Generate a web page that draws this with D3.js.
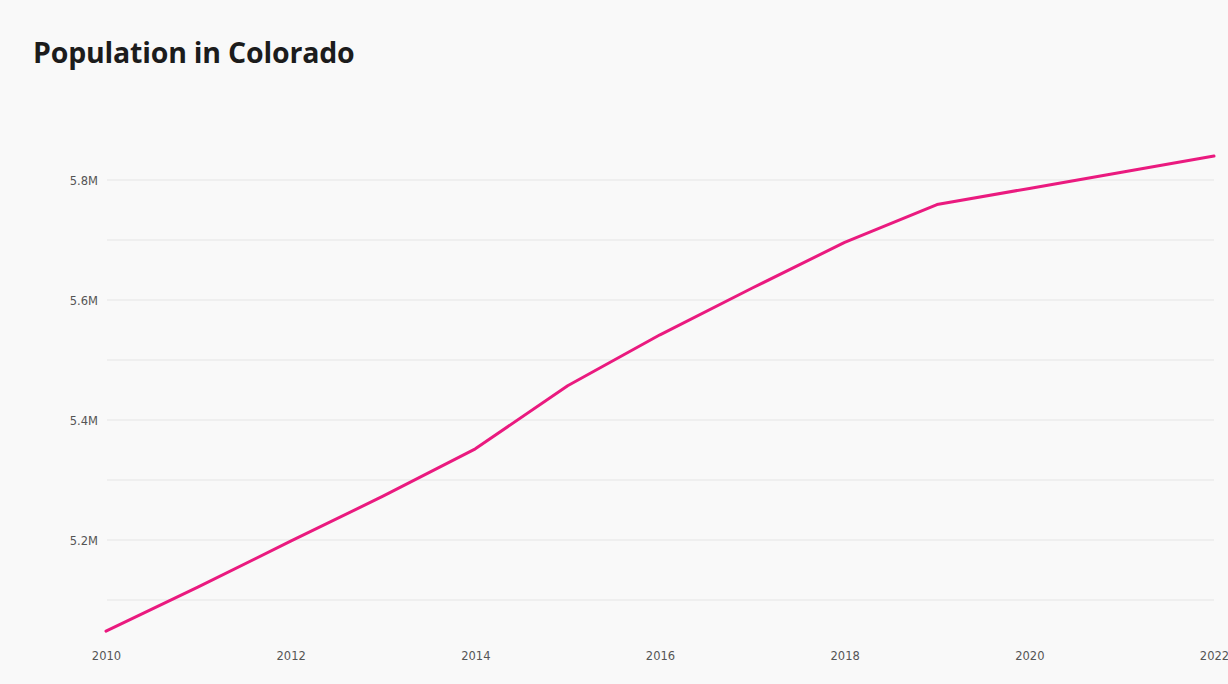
<!DOCTYPE html>
<html>
<head>
<meta charset="utf-8">
<script src="https://cdn.jsdelivr.net/npm/d3@7/dist/d3.min.js"></script>
<style>
  html, body { margin: 0; padding: 0; background: #f9f9f9; }
  svg { display: block; }
</style>
</head>
<body>
<svg id="chart" width="1228" height="684"></svg>
<script>
const years = [2010, 2011, 2012, 2013, 2014, 2015, 2016, 2017, 2018, 2019, 2020, 2021, 2022];
const population = [5048000, 5122000, 5198000, 5273000, 5352000, 5457000, 5542000, 5620000, 5696000, 5759000, 5786000, 5813000, 5840000];
const xTickYears = [2010, 2012, 2014, 2016, 2018, 2020, 2022];
const yGridValues = [5100000, 5200000, 5300000, 5400000, 5500000, 5600000, 5700000, 5800000];
const yLabelValues = [5200000, 5400000, 5600000, 5800000];
const yLabelTexts = ["5.2M", "5.4M", "5.6M", "5.8M"];
const title = "Population in Colorado";

const svg = d3.select("#chart");
const W = 1228, H = 684;

svg.append("rect").attr("width", W).attr("height", H).attr("fill", "#f9f9f9");

const x = d3.scaleLinear().domain([2010, 2022]).range([106, 1214]);
const y = d3.scaleLinear().domain([5100000, 5800000]).range([600, 180]);

svg.append("text")
  .attr("x", 33).attr("y", 63)
  .attr("font-family", "'Open Sans', Lato, sans-serif")
  .attr("font-weight", 700)
  .attr("font-size", 28.5)
  .attr("fill", "#1c1c1c")
  .attr("letter-spacing", -0.2)
  .text(title);

// gridlines
svg.append("g").selectAll("line").data(yGridValues).join("line")
  .attr("x1", 107).attr("x2", 1214)
  .attr("y1", d => y(d)).attr("y2", d => y(d))
  .attr("stroke", "#e6e6e6").attr("stroke-width", 1.2);

// y axis labels
const yAxis = d3.axisLeft(y).tickValues(yLabelValues)
  .tickFormat((d, i) => yLabelTexts[i]).tickSize(0).tickPadding(0);
const gy = svg.append("g").attr("transform", "translate(98,1)").call(yAxis);
gy.select(".domain").remove();
gy.selectAll("text")
  .attr("font-family", "'DejaVu Sans', sans-serif")
  .attr("font-size", 11.5).attr("fill", "#555");

// x axis labels
const xAxis = d3.axisBottom(x).tickValues(xTickYears)
  .tickFormat(d3.format("d")).tickSize(0).tickPadding(0);
const gx = svg.append("g").attr("transform", "translate(0,652)").call(xAxis);
gx.select(".domain").remove();
gx.selectAll("text")
  .attr("font-family", "'DejaVu Sans', sans-serif")
  .attr("font-size", 11.5).attr("fill", "#555");

// line
const line = d3.line().x((d, i) => x(years[i])).y(d => y(d));
svg.append("path")
  .datum(population)
  .attr("d", line)
  .attr("fill", "none")
  .attr("stroke", "#ea1a7f")
  .attr("stroke-width", 3)
  .attr("stroke-linejoin", "round")
  .attr("stroke-linecap", "round");
</script>
</body>
</html>
